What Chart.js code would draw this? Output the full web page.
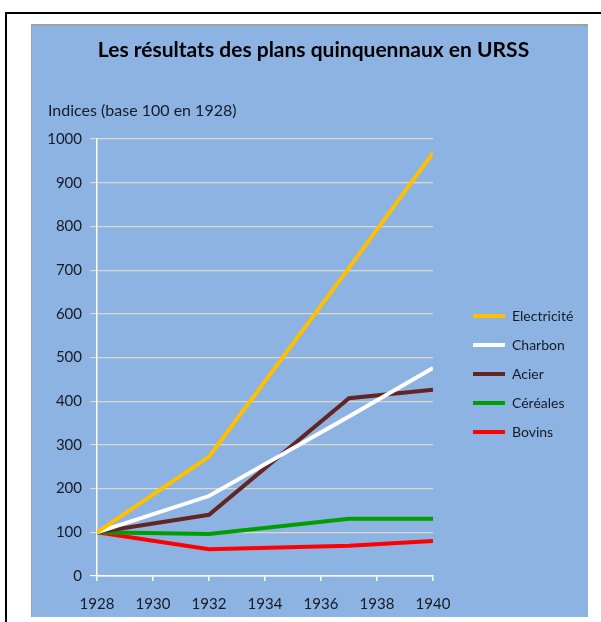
<!DOCTYPE html>
<html>
<head>
<meta charset="utf-8">
<script src="https://cdn.jsdelivr.net/npm/chart.js@4.4.1/dist/chart.umd.min.js"></script>
<style>
    body { margin: 0; background: #ffffff; }
    #frame { position: absolute; left: 5px; top: 12px; width: 700px; height: 700px;
             border-left: 2px solid #000; border-top: 2px solid #000; }
    #plot { position: absolute; left: 31px; top: 24px; width: 556px; height: 591px;
            background: #8DB3E2; border-left: 1px solid #a0a0a0; border-top: 2px solid #a0a0a0; }
    #plan_chart { position: absolute; left: 0; top: 0; }
</style>
</head>
<body>
<div id="frame"></div>
<div id="plot"></div>
<canvas id="plan_chart" width="601" height="622"></canvas>
<script>
const years = [1928, 1932, 1937, 1940];
const electricite = [100, 273, 705, 968];
const charbon = [100, 183, 365, 476];
const acier = [100, 140, 407, 426];
const cereales = [100, 96, 131, 131];
const bovins = [100, 61, 69, 80];
const xTicks = { min: 1928, max: 1940, step: 2 };
const yTicks = { min: 0, max: 1000, step: 100 };

const textColor = '#161a26';
const toPoints = (values) => values.map((v, i) => ({ x: years[i], y: v }));

const series = [
    { label: 'Electricité', data: electricite, color: '#FFC000' },
    { label: 'Charbon', data: charbon, color: '#FFFFFF' },
    { label: 'Acier', data: acier, color: '#632523' },
    { label: 'Céréales', data: cereales, color: '#009E00' },
    { label: 'Bovins', data: bovins, color: '#FF0000' }
];

const datasets = series.map((s) => ({
    label: s.label,
    data: toPoints(s.data),
    borderColor: s.color,
    backgroundColor: s.color,
    borderWidth: 4,
    pointRadius: 0,
    tension: 0
}));

Chart.defaults.font.family = 'Lato, "Open Sans", sans-serif';
Chart.defaults.color = textColor;

const ctx = document.getElementById('plan_chart').getContext('2d');
const plan_chart = new Chart(ctx, {
    type: 'line',
    data: { datasets: datasets },
    options: {
        responsive: false,
        animation: false,
        layout: { padding: { left: 48, right: 22, top: 24, bottom: 12 } },
        plugins: {
            title: {
                display: true,
                text: 'Les résultats des plans quinquennaux en URSS',
                font: { size: 21, weight: 'bold' },
                color: '#000',
                padding: { top: 13.4, bottom: 38.8 }
            },
            subtitle: {
                display: true,
                text: 'Indices (base 100 en 1928)',
                align: 'start',
                font: { size: 16 },
                color: textColor,
                padding: { top: 0, bottom: 18.4 }
            },
            legend: {
                position: 'right',
                fullSize: false,
                maxWidth: 121,
                title: { display: true, text: '', padding: { top: 18.6, bottom: 0 } },
                labels: {
                    usePointStyle: true,
                    pointStyle: 'line',
                    pointStyleWidth: 32,
                    padding: 15,
                    font: { size: 14 },
                    color: textColor
                }
            },
            tooltip: { enabled: false }
        },
        scales: {
            x: {
                type: 'linear',
                min: xTicks.min, max: xTicks.max,
                afterFit: (s) => { s.height = 34; },
                border: { color: '#ffffff', width: 1.5 },
                grid: { drawOnChartArea: false, color: '#ffffff', tickLength: 5, lineWidth: 1.5 },
                ticks: { stepSize: xTicks.step, padding: 14, font: { size: 15 }, color: textColor,
                         callback: (v) => String(v) }
            },
            y: {
                min: yTicks.min, max: yTicks.max,
                afterFit: (s) => { s.width = 49; },
                border: { color: '#ffffff', width: 1.5 },
                grid: {
                    color: (c) => (c.tick && c.tick.value === 0 ? '#ffffff' : '#dcd9c6'),
                    tickLength: 7,
                    lineWidth: 1.2
                },
                ticks: { stepSize: yTicks.step, padding: 8, font: { size: 15 }, color: textColor,
                         callback: (v) => String(v) }
            },
            yGap: {
                type: 'linear',
                position: 'right',
                display: true,
                afterFit: (s) => { s.width = 25; },
                border: { display: false },
                grid: { display: false, drawTicks: false },
                ticks: { display: false }
            }
        }
    }
});
</script>
</body>
</html>
